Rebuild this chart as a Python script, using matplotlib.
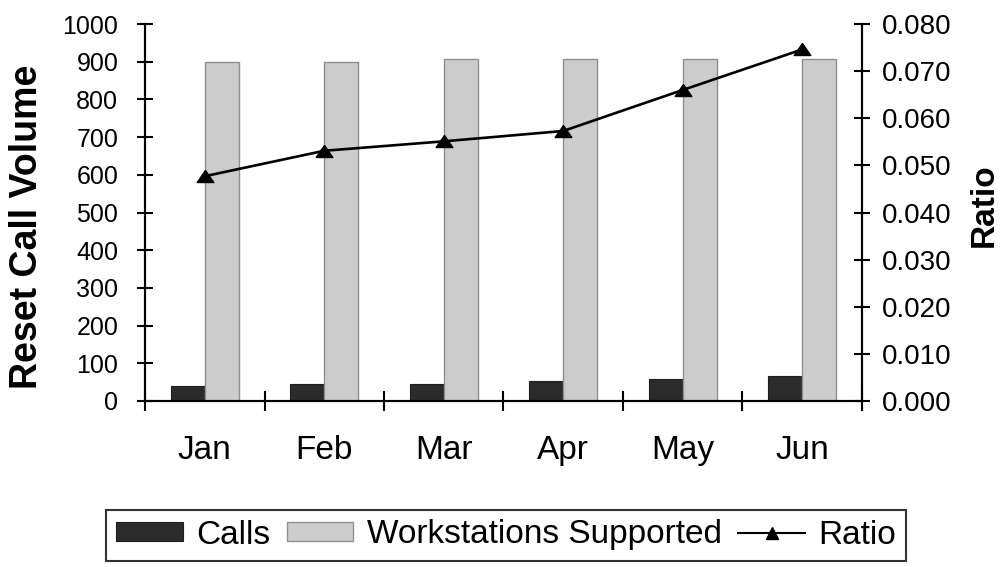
import matplotlib
matplotlib.use("Agg")
import matplotlib.pyplot as plt
import numpy as np
from matplotlib.ticker import FixedLocator, FormatStrFormatter
from matplotlib.lines import Line2D

plt.rcParams['font.family'] = ['Liberation Sans', 'DejaVu Sans']

months = ["Jan", "Feb", "Mar", "Apr", "May", "Jun"]
calls = [39, 46, 45, 53, 59, 66]
workstations = [900, 900, 906, 906, 906, 906]
ratio = [0.0477, 0.0531, 0.0551, 0.0573, 0.0660, 0.0746]

W, H = 1001, 567
fig = plt.figure(figsize=(W / 100, H / 100), dpi=100)
ax = fig.add_axes([145 / W, 1 - 401 / H, 717 / W, 377 / H])
ax2 = ax.twinx()

# wide, flat triangle marker
tri = [(0, 0.72), (-1, -0.72), (1, -0.72), (0, 0.72)]

x = np.arange(len(months))
w = 0.284
b1 = ax.bar(x - w / 2, calls, w, color="#2b2b2b", edgecolor="#1e1e1e", linewidth=0.8,
            label="Calls", zorder=2)
b2 = ax.bar(x + w / 2, workstations, w, color="#cccccc", edgecolor="#8f8f8f", linewidth=1.0,
            label="Workstations Supported", zorder=2)
ax2.plot(x, ratio, color="black", lw=1.9, marker=tri, markersize=12)

ax.set_xlim(-0.5, len(months) - 0.5)
ax.set_ylim(0, 1000)
ax2.set_ylim(0, 0.08)
ax.set_yticks(np.arange(0, 1001, 100))
ax2.set_yticks(np.arange(0, 0.0801, 0.01))
ax2.yaxis.set_major_formatter(FormatStrFormatter("%.3f"))

ax.xaxis.set_major_locator(FixedLocator(np.arange(-0.5, len(months), 1.0)))
ax.xaxis.set_major_formatter(plt.NullFormatter())
ax.xaxis.set_minor_locator(FixedLocator(x))
ax.set_xticklabels(months, minor=True)
ax.tick_params(axis="x", which="major", direction="inout", length=14, width=1.5)
ax.tick_params(axis="x", which="minor", length=0, pad=24.5, labelsize=24)
ax.tick_params(axis="y", direction="inout", length=11.5, width=1.5, labelsize=18, pad=13.5)
ax2.tick_params(axis="y", direction="inout", length=11.5, width=1.5, labelsize=20, pad=8.5)

for a in (ax, ax2):
    a.spines["top"].set_visible(False)
    for s in ("left", "right", "bottom"):
        a.spines[s].set_linewidth(1.5)

fig.text(27 / W, 1 - 227 / H, "Reset Call Volume", rotation=90, ha="center", va="center",
         fontsize=27, fontweight="bold")
fig.text(993 / W, 1 - 205 / H, "Ratio", rotation=90, rotation_mode="anchor",
         ha="center", va="baseline", fontsize=24, fontweight="bold")

ratio_handle = Line2D([], [], color="black", lw=1.5, marker="^", markersize=8)
leg = fig.legend(handles=[b1, b2, ratio_handle],
                 labels=["Calls", "Workstations Supported", "Ratio"],
                 loc="center", bbox_to_anchor=(506 / W, 1 - 535 / H),
                 ncol=3, fontsize=24, frameon=True, fancybox=False, edgecolor="black",
                 handlelength=2.0, handleheight=0.5, handletextpad=0.4,
                 columnspacing=0.5, borderpad=0.3)
leg.get_frame().set_linewidth(1.5)

fig.savefig("out.png", dpi=100)
